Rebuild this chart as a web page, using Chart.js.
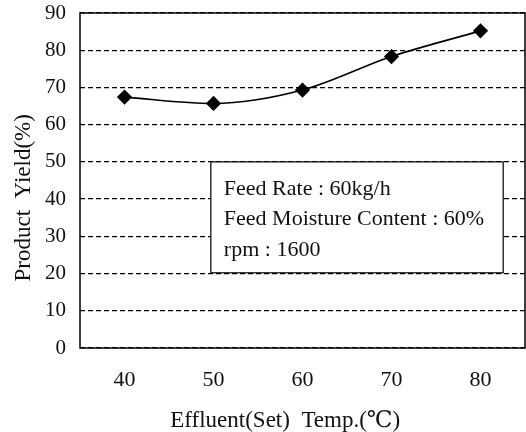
<!DOCTYPE html>
<html>
<head>
<meta charset="utf-8">
<script src="https://cdn.jsdelivr.net/npm/chart.js@4"></script>
<style>
  html, body { margin: 0; padding: 0; background: #fff; overflow: hidden; }
</style>
</head>
<body>
<canvas id="yieldchart" width="526" height="432"></canvas>
<script>
var temps = ['40', '50', '60', '70', '80'];
var yieldValues = [67.4, 65.7, 69.3, 78.3, 85.2];
var yTicks = [0, 10, 20, 30, 40, 50, 60, 70, 80, 90];
var noteLines = ['Feed Rate : 60kg/h', 'Feed Moisture Content : 60%', 'rpm : 1600'];

var serif = "'Liberation Serif', 'DejaVu Serif', serif";
var pad = '\u00a0\u00a0\u00a0\u00a0\u00a0\u00a0'; // nudges the axis titles off centre like the original

// frame round the plot plus the condition box
var framePlugin = {
    id: 'frame',
    afterDraw: function(chart) {
        var ctx = chart.ctx;
        var a = chart.chartArea;
        var y = chart.scales.y;
        ctx.save();
        ctx.strokeStyle = '#000';
        ctx.lineWidth = 1.5;
        ctx.strokeRect(a.left, a.top, a.right - a.left, a.bottom - a.top);

        var w = a.right - a.left;
        var bx = a.left + w * 0.294;
        var bx2 = a.left + w * 0.951;
        var by = y.getPixelForValue(50);
        var by2 = y.getPixelForValue(20.2);
        ctx.fillStyle = '#fff';
        ctx.fillRect(bx, by, bx2 - bx, by2 - by);
        ctx.lineWidth = 1.2;
        ctx.strokeRect(bx, by, bx2 - bx, by2 - by);

        ctx.fillStyle = '#111';
        ctx.font = '22px ' + serif;
        ctx.textBaseline = 'alphabetic';
        ctx.textAlign = 'left';
        for (var i = 0; i < noteLines.length; i++) {
            ctx.fillText(noteLines[i], bx + 13, by + 33 + i * 30.5);
        }
        ctx.restore();
    }
};

var ctx1 = document.getElementById('yieldchart').getContext('2d');

var yieldchart = new Chart(ctx1, {
    type: 'line',
    data: {
        labels: temps,
        datasets: [{
            label: 'Product Yield',
            data: yieldValues,
            borderColor: '#000',
            backgroundColor: '#000',
            borderWidth: 1.6,
            tension: 0.4,
            cubicInterpolationMode: 'monotone',
            pointStyle: 'rectRot',
            pointRadius: 6.5,
            pointHoverRadius: 6.5
        }]
    },
    options: {
        responsive: false,
        maintainAspectRatio: false,
        animation: false,
        layout: {
            autoPadding: false,
            padding: { top: 13, right: 1, left: 0, bottom: 0 }
        },
        plugins: {
            legend: { display: false },
            tooltip: { enabled: false }
        },
        scales: {
            x: {
                type: 'category',
                offset: true,
                afterFit: function(scale) {
                    scale.height = 84;
                    scale.paddingLeft = 0;
                    scale.paddingRight = 0;
                },
                grid: { display: false, drawTicks: false },
                border: { display: false },
                ticks: {
                    color: '#111',
                    font: { family: serif, size: 22 },
                    padding: 19
                },
                title: {
                    display: true,
                    text: 'Effluent(Set)  Temp.(\u2103)' + pad,
                    color: '#111',
                    font: { family: serif, size: 23 },
                    padding: { top: 18, bottom: -3 }
                }
            },
            y: {
                min: 0,
                max: 90,
                afterFit: function(scale) {
                    scale.width = 80;
                    scale.paddingTop = 0;
                    scale.paddingBottom = 0;
                },
                afterBuildTicks: function(scale) {
                    scale.ticks = yTicks.map(function(v) { return { value: v }; });
                },
                grid: {
                    color: '#000',
                    lineWidth: 1.3,
                    drawTicks: false
                },
                border: { display: false, dash: [5, 3] },
                ticks: {
                    color: '#111',
                    font: { family: serif, size: 21 },
                    padding: 14
                },
                title: {
                    display: true,
                    text: 'Product  Yield(%)' + pad,
                    color: '#111',
                    font: { family: serif, size: 23 },
                    padding: { top: 10, bottom: 6 }
                }
            }
        }
    },
    plugins: [framePlugin]
});
</script>
</body>
</html>
